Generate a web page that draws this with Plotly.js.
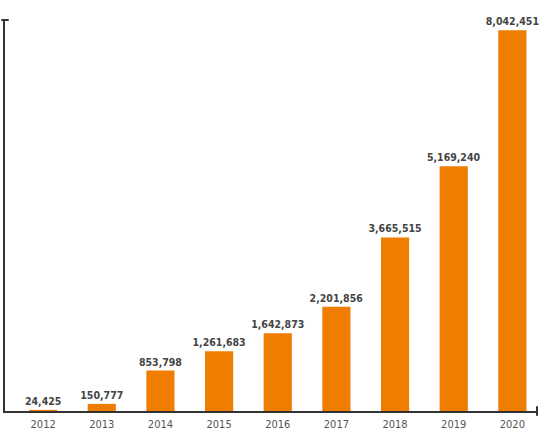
<!DOCTYPE html>
<html>
<head>
<meta charset="utf-8">
<script src="https://cdn.plot.ly/plotly-3.0.1.min.js"></script>
<style>html,body{margin:0;padding:0;background:#fff;}#chart{width:540px;height:433px;}</style>
</head>
<body>
<div id="chart"></div>
<script>
var years = ["2012","2013","2014","2015","2016","2017","2018","2019","2020"];
var values = [24425, 150777, 853798, 1261683, 1642873, 2201856, 3665515, 5169240, 8042451];
var labels = values.map(function(v){ return v.toLocaleString("en-US"); });

var trace = {
  type: "bar",
  x: years,
  y: values,
  text: labels,
  textposition: "outside",
  constraintext: "none",
  cliponaxis: false,
  textfont: {family: "DejaVu Sans Condensed, DejaVu Sans", size: 10.5, color: "#444", weight: "bold"},
  marker: {color: "#EE7D00"},
  width: 0.48,
  hoverinfo: "none"
};

var layout = {
  width: 540, height: 433,
  margin: {l: 5, r: 3, t: 20, b: 22},
  paper_bgcolor: "#fff", plot_bgcolor: "#fff",
  showlegend: false,
  xaxis: {
    type: "category",
    range: [-0.65, 8.42],
    showgrid: false, zeroline: false,
    showline: true, linecolor: "#333", linewidth: 2,
    ticks: "",
    ticklabelstandoff: 2,
    tickfont: {family: "DejaVu Sans Condensed, DejaVu Sans", size: 11, color: "#555"}
  },
  yaxis: {
    range: [0, 8260000],
    showgrid: false, zeroline: false,
    showline: true, linecolor: "#333", linewidth: 2,
    showticklabels: false, ticks: ""
  },
  shapes: [
    {type: "line", xref: "paper", yref: "paper", x0: -0.007, x1: 0.007, y0: 1, y1: 1, line: {color: "#333", width: 2}},
    {type: "line", xref: "paper", yref: "paper", x0: 1, x1: 1, y0: -0.012, y1: 0.012, line: {color: "#333", width: 2}}
  ]
};

Plotly.newPlot("chart", [trace], layout, {displayModeBar: false, staticPlot: true});
</script>
</body>
</html>
